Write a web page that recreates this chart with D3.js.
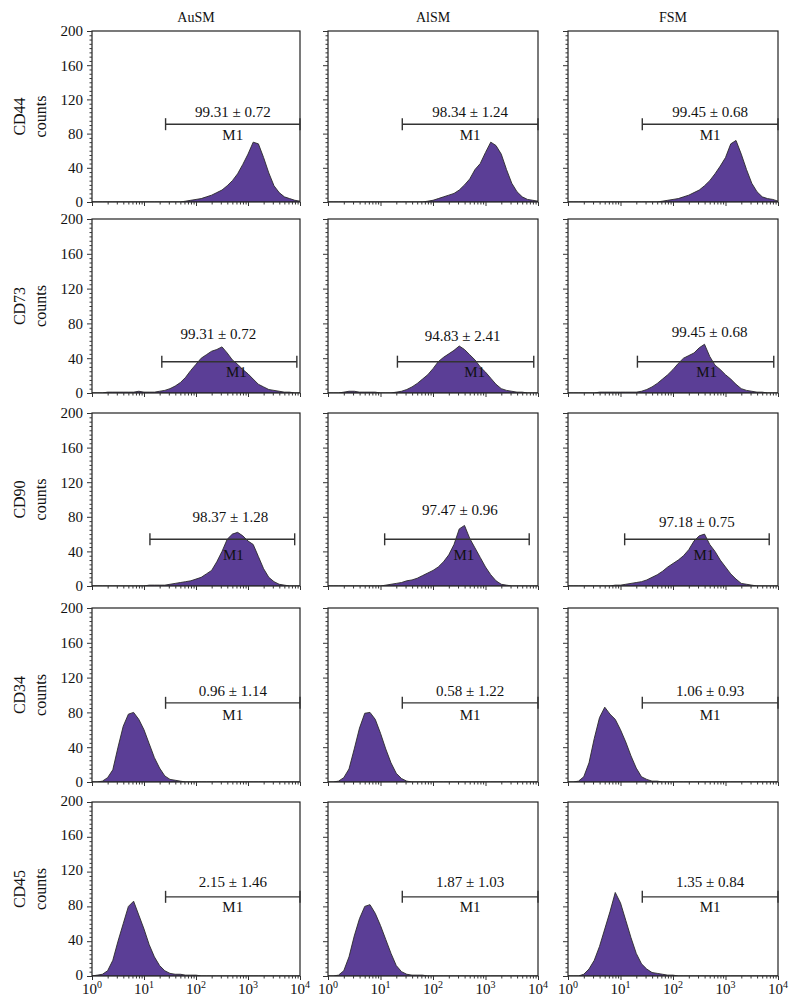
<!DOCTYPE html>
<html><head><meta charset="utf-8">
<script src="https://cdn.jsdelivr.net/npm/d3@7/dist/d3.min.js"></script>
<style>
html,body{margin:0;padding:0;background:#fff;}
svg text{font-family:"Liberation Serif","Times New Roman",serif;fill:#111;}
</style></head>
<body>
<svg id="c" width="795" height="1007"></svg>
<script>
// ---------- data ----------
const markers = ["CD44", "CD73", "CD90", "CD34", "CD45"];
const groups = ["AuSM", "AlSM", "FSM"];
const yTicks = [0, 40, 80, 120, 160, 200];
const xTicks = [1, 10, 100, 1000, 10000];
const xTickExp = ["0", "1", "2", "3", "4"];
// histogram channel positions: log10 fluorescence, 0.0 .. 4.0 step 0.1
const channelLog = d3.range(41).map(i => i / 10);

const cd44_AuSM = [0,0,0,0,0,0,0,0,0,0,0,0,0,0,0,0,0,0,1,2,3,4,6,8,11,14,19,25,33,44,56,70,68,52,34,19,11,6,4,2,1];
const cd44_AlSM = [0,0,0,0,0,0,0,0,0,0,0,0,0,0,0,0,0,0,0,1,2,4,6,8,10,14,20,27,38,45,58,70,66,56,38,22,12,6,3,2,1];
const cd44_FSM  = [0,0,0,0,0,0,0,0,0,0,0,0,0,0,0,0,0,0,1,2,3,4,6,8,11,14,19,25,33,42,52,68,72,56,38,22,12,6,4,3,1];
const cd73_AuSM = [0,0,0,1,1,1,1,1,1,2,1,1,1,2,3,5,8,12,18,26,33,40,44,48,50,53,46,38,33,27,22,16,10,7,4,3,2,1,1,0,0];
const cd73_AlSM = [0,0,0,1,2,2,1,1,1,1,0,0,0,1,2,4,7,11,16,21,28,36,41,45,49,54,50,44,38,30,24,17,10,5,3,2,1,1,0,0,0];
const cd73_FSM  = [0,0,0,0,0,0,1,1,1,1,1,1,1,1,2,4,7,11,16,21,27,34,40,43,46,52,56,42,32,27,21,16,10,5,3,2,1,1,0,0,0];
const cd90_AuSM = [0,0,0,0,0,0,0,0,0,0,0,1,1,1,1,2,3,4,5,6,8,10,14,18,28,40,54,60,62,58,52,48,34,20,10,5,2,1,0,0,0];
const cd90_AlSM = [0,0,0,0,0,0,0,0,0,0,0,1,2,3,4,6,7,9,12,15,18,22,28,36,48,66,70,55,44,33,22,13,6,2,1,0,0,0,0,0,0];
const cd90_FSM  = [0,0,0,0,0,0,0,0,0,1,1,2,3,4,5,7,10,13,17,22,26,30,35,42,52,58,60,48,40,30,22,14,8,3,2,1,0,0,0,0,0];
const cd34_AuSM = [0,0,1,5,14,40,64,78,80,72,60,44,28,16,7,3,2,1,0,0,0,0,0,0,0,0,0,0,0,0,0,0,0,0,0,0,0,0,0,0,0];
const cd34_AlSM = [0,0,1,5,15,38,62,79,80,72,56,38,22,10,4,1,0,0,0,0,0,0,0,0,0,0,0,0,0,0,0,0,0,0,0,0,0,0,0,0,0];
const cd34_FSM  = [0,0,1,6,22,50,74,86,78,72,60,46,30,16,6,3,1,1,0,0,0,0,0,0,0,0,0,0,0,0,0,0,0,0,0,0,0,0,0,0,0];
const cd45_AuSM = [0,1,2,6,18,40,60,80,86,70,54,36,22,12,6,3,2,2,1,1,1,0,0,0,0,0,0,0,0,0,0,0,0,0,0,0,0,0,0,0,0];
const cd45_AlSM = [0,0,1,6,22,46,66,80,82,72,58,42,26,12,5,2,1,1,1,0,0,0,0,0,0,0,0,0,0,0,0,0,0,0,0,0,0,0,0,0,0];
const cd45_FSM  = [0,0,0,2,8,18,34,54,74,96,84,64,44,26,14,8,4,3,2,1,1,0,0,0,0,0,0,0,0,0,0,0,0,0,0,0,0,0,0,0,0];

const histograms = [
  [cd44_AuSM, cd44_AlSM, cd44_FSM],
  [cd73_AuSM, cd73_AlSM, cd73_FSM],
  [cd90_AuSM, cd90_AlSM, cd90_FSM],
  [cd34_AuSM, cd34_AlSM, cd34_FSM],
  [cd45_AuSM, cd45_AlSM, cd45_FSM]
];

// M1 gate: start, end (fluorescence), level (counts), percent label
const gateStart = [[26,26,26],[22,21,21],[13,12,12],[26,26,26],[26,26,26]];
const gateEnd   = [[10000,10000,10000],[8700,8300,8300],[7900,6800,6800],[10000,10000,10000],[10000,10000,10000]];
const gateLevel = [[91,91,91],[36,36,36],[54,54,54],[91,91,91],[91,91,91]];
const gateText  = [
  ["99.31 ± 0.72", "98.34 ± 1.24", "99.45 ± 0.68"],
  ["99.31 ± 0.72", "94.83 ± 2.41", "99.45 ± 0.68"],
  ["98.37 ± 1.28", "97.47 ± 0.96", "97.18 ± 0.75"],
  ["0.96 ± 1.14", "0.58 ± 1.22", "1.06 ± 0.93"],
  ["2.15 ± 1.46", "1.87 ± 1.03", "1.35 ± 0.84"]
];
const gateName = "M1";

// ---------- layout ----------
const colLeft  = [92, 328, 568];
const colRight = [300, 538, 778];
const rowTop    = [31, 219, 413, 608, 802];
const rowBottom = [202, 393, 586, 782, 976];
const labelUp   = [[7,7,7],[23,21,25],[17,24,12],[7,7,7],[10,10,10]];
const labelDx   = [[0,0,0],[-11,-3,4],[8,3,0],[0,0,0],[0,0,0]];
const m1Down    = [16,15,21,17,15];
const m1Dx      = [[0,0,0],[7,9,1],[11,7,7],[0,0,0],[0,0,0]];

const svg = d3.select("#c");
const FILL = "#5b3e96";

groups.forEach((g, c) => {
  svg.append("text").attr("x", (colLeft[c] + colRight[c]) / 2).attr("y", 22)
    .attr("text-anchor", "middle").attr("font-size", 14).text(g);
});

const minorX = [];
[1, 10, 100, 1000].forEach(d => { for (let k = 2; k <= 9; k++) minorX.push(d * k); });
const minorY = d3.range(0, 201, 5).filter(v => v % 40 !== 0);

markers.forEach((m, r) => {
  const midY = (rowTop[r] + rowBottom[r]) / 2;
  svg.append("text").attr("transform", `translate(25,${midY}) rotate(-90)`)
    .attr("text-anchor", "middle").attr("font-size", 16).text(m);
  svg.append("text").attr("transform", `translate(46,${midY}) rotate(-90)`)
    .attr("text-anchor", "middle").attr("font-size", 16).text("counts");

  groups.forEach((g, c) => {
    const x = d3.scaleLog().domain([1, 10000]).range([colLeft[c], colRight[c]]);
    const y = d3.scaleLinear().domain([0, 200]).range([rowBottom[r], rowTop[r]]);
    const p = svg.append("g");
    const clipId = `clip${r}_${c}`;
    p.append("clipPath").attr("id", clipId).append("rect")
      .attr("x", colLeft[c]).attr("y", rowTop[r])
      .attr("width", colRight[c] - colLeft[c]).attr("height", rowBottom[r] - rowTop[r]);

    // histogram
    const vals = histograms[r][c];
    const area = d3.area()
      .x((d, i) => x(Math.pow(10, channelLog[i])))
      .y0(y(0)).y1(d => y(d))
      .curve(d3.curveLinear);
    p.append("path").datum(vals).attr("d", area)
      .attr("clip-path", `url(#${clipId})`)
      .attr("fill", FILL).attr("stroke", "#2a2a2a").attr("stroke-width", 0.9)
      .attr("stroke-linejoin", "round");

    // frame
    p.append("rect").attr("x", colLeft[c]).attr("y", rowTop[r])
      .attr("width", colRight[c] - colLeft[c]).attr("height", rowBottom[r] - rowTop[r])
      .attr("fill", "none").attr("stroke", "#222").attr("stroke-width", 1.2);

    // y axis
    const ya = p.append("g").attr("transform", `translate(${colLeft[c]},0)`)
      .call(d3.axisLeft(y).tickValues(yTicks).tickSize(5)
        .tickFormat(c === 0 ? d3.format("d") : () => ""));
    const yb = p.append("g").attr("transform", `translate(${colLeft[c]},0)`)
      .call(d3.axisLeft(y).tickValues(minorY).tickSize(2.5).tickFormat(() => ""));
    [ya, yb].forEach(a => { a.select(".domain").remove(); a.selectAll("line").attr("stroke", "#333"); });
    ya.selectAll("text").attr("font-size", 15).attr("font-family", "Liberation Serif, serif")
      .attr("fill", "#111").attr("dx", -1);
    if (r === markers.length - 1) ya.selectAll("text").attr("dy", "0.2em");

    // x axis
    const xa = p.append("g").attr("transform", `translate(0,${rowBottom[r]})`)
      .call(d3.axisBottom(x).tickValues(xTicks).tickSize(4).tickFormat(() => ""));
    const xb = p.append("g").attr("transform", `translate(0,${rowBottom[r]})`)
      .call(d3.axisBottom(x).tickValues(minorX).tickSize(2.5).tickFormat(() => ""));
    [xa, xb].forEach(a => { a.select(".domain").remove(); a.selectAll("line").attr("stroke", "#333"); });
    if (r === markers.length - 1) {
      xTicks.forEach((t, i) => {
        const tx = svg.append("text").attr("x", x(t)).attr("y", rowBottom[r] + 18)
          .attr("text-anchor", "middle").attr("font-size", 15);
        tx.append("tspan").text("10");
        tx.append("tspan").attr("dy", -6).attr("font-size", 10).text(xTickExp[i]);
      });
    }

    // M1 gate
    const gx0 = x(gateStart[r][c]), gx1 = x(gateEnd[r][c]), gy = y(gateLevel[r][c]);
    const gg = p.append("g").attr("stroke", "#333").attr("stroke-width", 1.4);
    gg.append("line").attr("x1", gx0).attr("x2", gx1).attr("y1", gy).attr("y2", gy);
    gg.append("line").attr("x1", gx0).attr("x2", gx0).attr("y1", gy - 6).attr("y2", gy + 6);
    gg.append("line").attr("x1", gx1).attr("x2", gx1).attr("y1", gy - 6).attr("y2", gy + 6);
    const cx = (gx0 + gx1) / 2;
    p.append("text").attr("x", cx + labelDx[r][c]).attr("y", gy - labelUp[r][c])
      .attr("text-anchor", "middle").attr("font-size", 15).text(gateText[r][c]);
    p.append("text").attr("x", cx + m1Dx[r][c]).attr("y", gy + m1Down[r])
      .attr("text-anchor", "middle").attr("font-size", 15).text(gateName);
  });
});
</script>
</body></html>
